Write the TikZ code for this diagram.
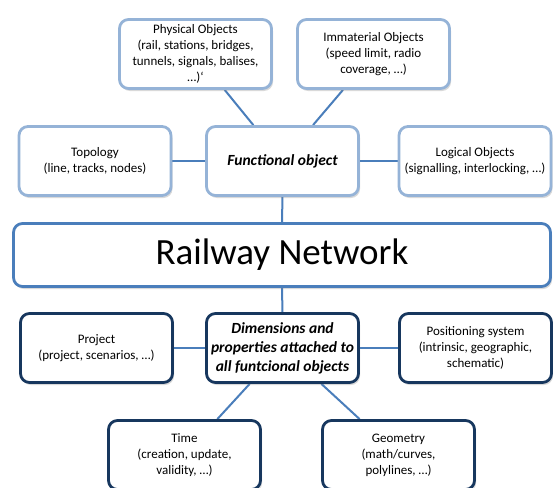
\documentclass[tikz,border=0pt]{standalone}
\usepackage{fontspec}
\setmainfont{Carlito}
\usepackage{tikz}
\usetikzlibrary{
  positioning,
  shadows,
  backgrounds
}
\definecolor{objedge}{RGB}{149,179,215}
\definecolor{dimedge}{RGB}{23,55,94}
\definecolor{netedge}{RGB}{74,126,187}
\tikzset{
  obj box/.style={
    draw=objedge, line width=2.8pt, rounded corners=9pt,
    fill=white, align=center,
    minimum width=152pt, minimum height=69pt,
    font=\fontsize{13}{16}\selectfont,
    drop shadow={opacity=0.3, shadow xshift=1.5pt, shadow yshift=-2.5pt}
  },
  dim box/.style={
    obj box, draw=dimedge
  },
  net box/.style={
    draw=netedge, line width=2.8pt, rounded corners=9pt,
    fill=white, minimum width=537pt, minimum height=63pt,
    font=\fontsize{37}{40}\selectfont,
    drop shadow={opacity=0.3, shadow xshift=1.5pt, shadow yshift=-2.5pt}
  },
  link/.style={
    draw=netedge, line width=2pt
  },
}

\begin{document}
\begin{tikzpicture}[x=1pt, y=-1pt]

  \useasboundingbox (0,0) rectangle (553,487);
  \clip (0,0) rectangle (553,487);

  % Functional objects
  \node[obj box] (phys) at (195.5,54)
    {Physical Objects\\(rail, stations, bridges,\\tunnels, signals, balises,\\…)\char96};
  \node[obj box] (immat) at (373.5,54)
    {Immaterial Objects\\(speed limit, radio\\coverage, …)};
  \node[obj box] (topo) at (95,161)
    {Topology\\(line, tracks, nodes)};
  \node[obj box, font=\fontsize{15.5}{19}\selectfont\bfseries\itshape]
    (func) at (282.5,161) {Functional object};
  \node[obj box] (logic) at (475,161)
    {Logical Objects\\(signalling, interlocking, …)};

  % Network
  \node[net box] (rail) at (282,255) {Railway Network};

  % Dimensions
  \node[dim box] (proj) at (96.5,348)
    {Project\\(project, scenarios, …)};
  \node[dim box, font=\fontsize{15.5}{19}\selectfont\bfseries\itshape]
    (dims) at (282.5,348)
    {Dimensions and\\properties attached to\\all funtcional objects};
  \node[dim box] (pos) at (475.5,348)
    {Positioning system\\(intrinsic, geographic,\\schematic)};
  \node[dim box] (time) at (184.5,455)
    {Time\\(creation, update,\\validity, …)};
  \node[dim box] (geom) at (398.5,455)
    {Geometry\\(math/curves,\\polylines, …)};

  % Links
  \begin{scope}[on background layer]
    \draw[link] (phys) -- (func);
    \draw[link] (immat) -- (func);
    \draw[link] (topo) -- (func);
    \draw[link] (func) -- (logic);
    \draw[link] (func) -- (rail);
    \draw[link] (rail) -- (dims);
    \draw[link] (proj) -- (dims);
    \draw[link] (dims) -- (pos);
    \draw[link] (dims) -- (time);
    \draw[link] (dims) -- (geom);
  \end{scope}

\end{tikzpicture}
\end{document}
